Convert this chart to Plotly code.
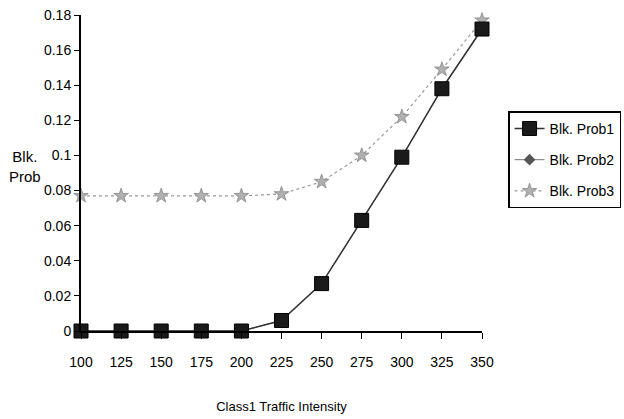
import plotly.graph_objects as go

# Class 1 traffic intensity (x) and blocking probabilities for the three classes
intensity = [100, 125, 150, 175, 200, 225, 250, 275, 300, 325, 350]
blk_prob1 = [0, 0, 0, 0, 0, 0.006, 0.027, 0.063, 0.099, 0.138, 0.172]
blk_prob2 = [0, 0, 0, 0, 0, 0.006, 0.027, 0.063, 0.099, 0.138, 0.172]
blk_prob3 = [0.077, 0.077, 0.077, 0.077, 0.077, 0.078, 0.085, 0.100, 0.122, 0.149, 0.177]
y_ticks = [0, 0.02, 0.04, 0.06, 0.08, 0.1, 0.12, 0.14, 0.16, 0.18]
y_tick_text = ["0", "0.02", "0.04", "0.06", "0.08", "0.1", "0.12", "0.14", "0.16", "0.18"]

FONT = "Liberation Sans Narrow, Arial Narrow, Liberation Sans, Arial, sans-serif"

fig = go.Figure()

# Prob2 sits under Prob1 (identical values), drawn first so squares stay on top
fig.add_trace(go.Scatter(
    x=intensity, y=blk_prob2, name="Blk. Prob2", mode="lines+markers",
    legendrank=2, legendgroup="p2", cliponaxis=False,
    line=dict(color="#777777", width=1),
    marker=dict(symbol="diamond", size=9, color="#555555"),
))
fig.add_trace(go.Scatter(
    x=intensity, y=blk_prob3, name="Blk. Prob3", mode="lines+markers",
    legendrank=3, legendgroup="p3", cliponaxis=False,
    line=dict(color="#999999", width=1.2, dash="dot"),
    marker=dict(symbol="star", size=11, color="#b0b0b0",
                line=dict(color="#888888", width=0.8)),
))
fig.add_trace(go.Scatter(
    x=intensity, y=blk_prob1, name="Blk. Prob1", mode="lines+markers",
    legendrank=1, legendgroup="p1", cliponaxis=False,
    line=dict(color="#333333", width=1.5),
    marker=dict(symbol="square", size=14, color="#1a1a1a",
                line=dict(color="#000000", width=1)),
))

fig.update_layout(
    width=624, height=419,
    paper_bgcolor="white", plot_bgcolor="white",
    margin=dict(l=81, r=142, t=15, b=88, autoexpand=False),
    font=dict(family=FONT, size=14, color="black"),
    showlegend=True,
    legend=dict(
        x=1.065, y=0.695, xanchor="left", yanchor="top",
        bordercolor="black", borderwidth=1.5, bgcolor="white",
        font=dict(size=14), itemsizing="trace",
        tracegroupgap=10, entrywidth=110, entrywidthmode="pixels",
    ),
    xaxis=dict(
        range=[100, 350], tickmode="array", tickvals=intensity,
        showgrid=False, zeroline=False,
        showline=True, linecolor="black", linewidth=2,
        ticks="outside", ticklen=6, tickcolor="black",
        ticklabelstandoff=11,
        title=dict(text="Class1 Traffic Intensity", standoff=33,
                   font=dict(size=13)),
    ),
    yaxis=dict(
        range=[0, 0.18], tickmode="array", tickvals=y_ticks,
        ticktext=y_tick_text,
        showgrid=False, zeroline=False,
        showline=True, linecolor="black", linewidth=2,
        ticks="outside", ticklen=5, tickcolor="black",
    ),
)

fig.add_annotation(
    text="Blk.<br>Prob", xref="paper", yref="paper",
    x=-0.095, y=0.52, xanchor="right", yanchor="middle",
    showarrow=False, align="center", font=dict(size=15),
)

fig.write_html("out.html")
